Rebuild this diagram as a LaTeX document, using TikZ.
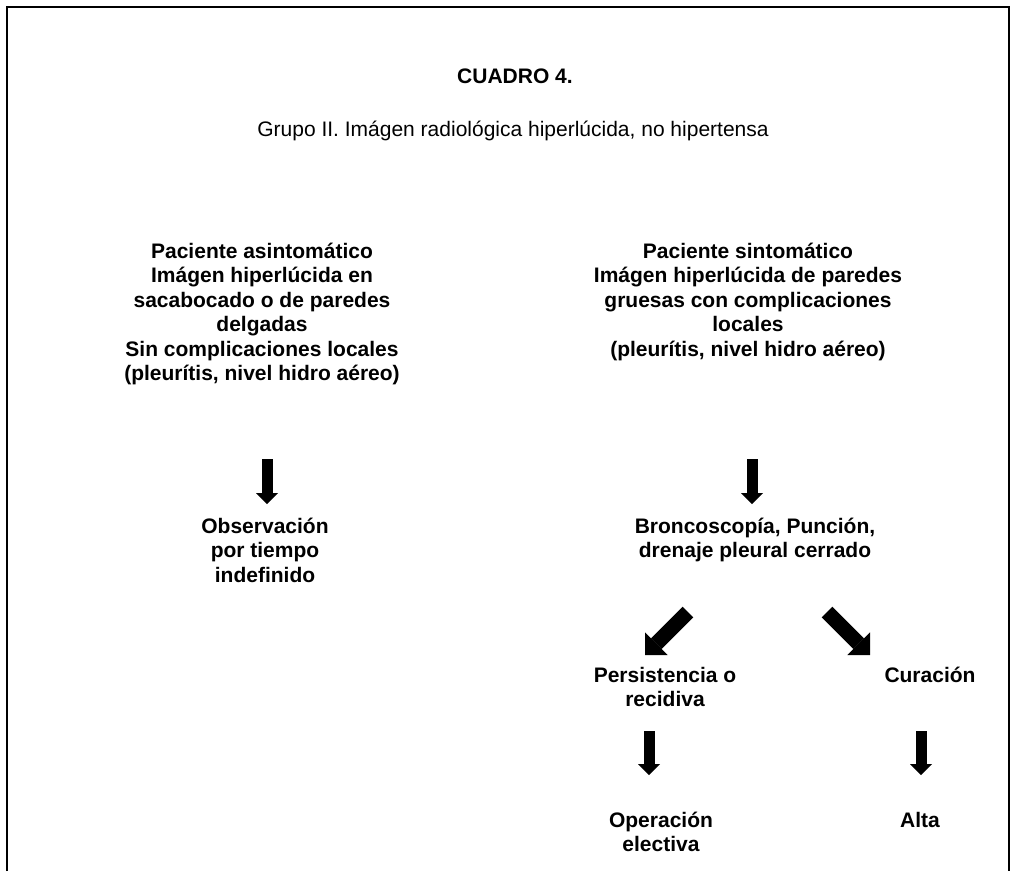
\documentclass[tikz,border=0pt]{standalone}
\usepackage{fontspec}
\setmainfont{Liberation Sans}
\usetikzlibrary{arrows.meta}

\begin{document}
\begin{tikzpicture}[x=1pt,y=-1pt]
\tikzstyle{texto}=[inner sep=0pt,anchor=north,align=center,font=\fontsize{21}{24.5}\selectfont\bfseries]
\tikzstyle{flecha}=[line width=11pt,-{Triangle[width=22pt,length=11pt,line width=0pt]}]
\tikzstyle{flechadiag}=[line width=15pt,-{Triangle[width=32pt,length=16pt,line width=0pt]}]
\useasboundingbox (0,0) rectangle (1010,871);
\draw[line width=2pt] (6.7,871) -- (6.7,6.7) -- (1008.5,6.7) -- (1008.5,871);
\foreach \name/\point/\txt in {
	cuadro/{515,68.6}/{CUADRO 4.},
	asint/{262,242.6}/{Paciente asintomático\\Imágen hiperlúcida en\\sacabocado o de paredes\\delgadas\\Sin complicaciones locales\\(pleurítis, nivel hidro aéreo)},
	sint/{748,242.6}/{Paciente sintomático\\Imágen hiperlúcida de paredes\\gruesas con complicaciones\\locales\\(pleurítis, nivel hidro aéreo)},
	observ/{265,517.6}/{Observación\\por tiempo\\indefinido},
	bronco/{755,517.6}/{Broncoscopía, Punción,\\drenaje pleural cerrado},
	persist/{665,666.6}/{Persistencia o\\recidiva},
	curacion/{930,666.6}/{Curación},
	operacion/{661,811.6}/{Operación\\electiva},
	alta/{920,811.6}/{Alta}}
	\node[texto] (\name) at (\point) {\txt};
\node[texto,font=\fontsize{21}{24.5}\selectfont] (grupo) at (513,120.6) {Grupo II. Imágen radiológica hiperlúcida, no hipertensa};
\foreach \name/\point in {
	a1/{267,459}, a2/{267,504},
	b1/{752,459}, b2/{752,504},
	c1/{688,612}, c2/{645,655},
	d1/{827,612}, d2/{870,655},
	e1/{649,731}, e2/{649,775},
	f1/{921,731}, f2/{921,775}}
	\coordinate (\name) at (\point);
\draw[flecha] (a1) -- (a2);
\draw[flecha] (b1) -- (b2);
\draw[flechadiag] (c1) -- (c2);
\draw[flechadiag] (d1) -- (d2);
\draw[flecha] (e1) -- (e2);
\draw[flecha] (f1) -- (f2);
\end{tikzpicture}
\end{document}
